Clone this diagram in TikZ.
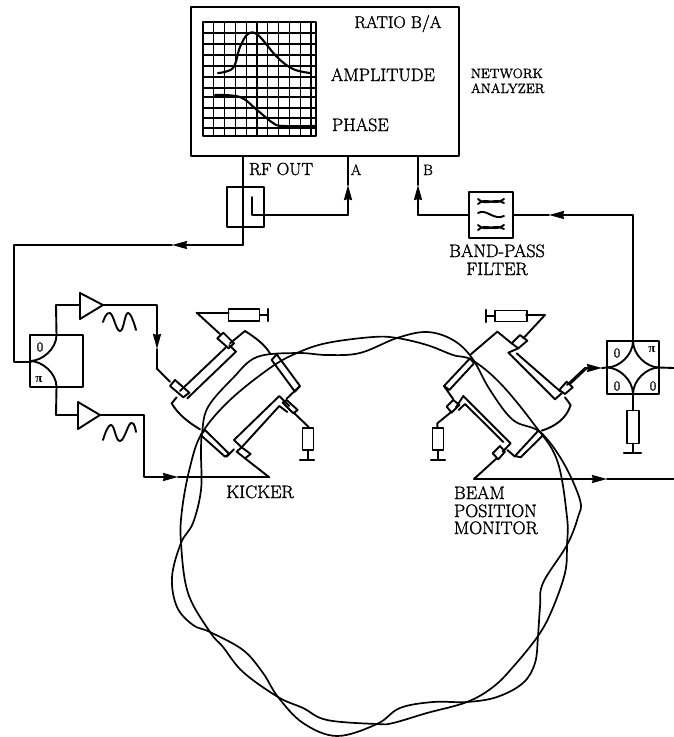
\documentclass[tikz,border=0pt]{standalone}
\usepackage{fontspec}
\usetikzlibrary{arrows.meta,calc}
\newfontfamily\lab{Latin Modern Roman}[FakeBold=1.5]
\newfontfamily\pifont{Liberation Serif}
\tikzset{
  wire/.style={line width=1.9pt,line cap=round,line join=round},
  box/.style={draw,line width=1.9pt,inner sep=0pt,outer sep=0pt},
  arr/.style={wire,-{Stealth[length=15pt,width=8pt,inset=1pt]}},
  resh/.style={box,minimum width=31pt,minimum height=12pt},
  resv/.style={box,minimum width=11pt,minimum height=22pt},
  txt/.style={inner sep=0pt,anchor=base west,font=\lab\fontsize{18}{20}\selectfont},
  txtc/.style={txt,anchor=base},
  small/.style={inner sep=0pt,font=\lab\fontsize{13.5}{15}\selectfont},
  portl/.style={inner sep=0pt,anchor=base,font=\lab\fontsize{15}{17}\selectfont},
  pil/.style={inner sep=0pt,font=\pifont\bfseries\fontsize{13}{15}\selectfont},
  beam/.style={line width=1.7pt},
  grid line/.style={line width=1.3pt},
}
\begin{document}
\begin{tikzpicture}[x=1pt,y=-1pt,every path/.append style={wire}]
\useasboundingbox (0,0) rectangle (674,737);

% network analyzer
\node[box,minimum width=268pt,minimum height=149pt] (NA) at (325,81.5) {};
\draw[grid line] (203,22) rectangle (316,136);
\foreach \x in {213.8,224.6,235.4,246.2,257,267.8,278.6,289.4,300.2,311} \draw[grid line] (\x,22) -- (\x,136);
\foreach \y in {33,44,55,66,77,88,97,108,118,128} \draw[grid line] (203,\y) -- (316,\y);
\draw[line width=2.1pt] plot[smooth,tension=0.6] coordinates {(218,73) (233,68) (240,47) (248,34) (258,35) (277,57) (293,69) (310,73)};
\draw[line width=2.1pt] plot[smooth,tension=0.6] coordinates {(215,95) (240,97) (257,110) (273,123) (283,126) (315,126)};
\node[txtc,font=\lab\fontsize{17}{19}\selectfont] (ratio) at (398,28) {RATIO B/A};
\node[txt] (ampl) at (330,81) {AMPLITUDE};
\node[txt] (phase) at (331,131) {PHASE};
\node[small,anchor=base west] (net1) at (470,78) {NETWORK};
\node[small,anchor=base west] (net2) at (470,93) {ANALYZER};
\node[txt,font=\lab\fontsize{17.5}{19}\selectfont] (rfout) at (248,175) {RF OUT};
\node[portl] (portA) at (356,175) {A};
\node[portl] (portB) at (428,175) {B};

% coupler
\node[box,minimum width=37pt,minimum height=40pt] (coup) at (245.5,207) {};
\coordinate (NArf) at (243,156);
\coordinate (bend1) at (243,245);
\coordinate (bend2) at (14,245);
\coordinate (arrL) at (172,245);
\coordinate (couI) at (252,197);
\coordinate (couC) at (252,215);
\coordinate (aB) at (348,215);
\coordinate (aT) at (348,185);
\coordinate (NAa) at (348,156);
\draw (NArf) -- (bend1);
\draw[arr] (bend1) -- (arrL);
\draw (arrL) -- (bend2) -- (14,362) -- (31,362);
\draw (couI) -- (couC) -- (aB);
\draw[arr] (aB) -- (aT);
\draw (aT) -- (NAa);

% band-pass filter
\node[box,minimum width=44pt,minimum height=46pt] (filt) at (491,215) {};
\coordinate (bB) at (418,215);
\coordinate (bT) at (418,185);
\coordinate (NAb) at (418,156);
\draw (filt.west) -- (bB);
\draw[arr] (bB) -- (bT);
\draw (bT) -- (NAb);
\draw (478,204) .. controls (486,196) and (494,207) .. (504,199);
\draw (478,199) .. controls (486,207) and (494,197) .. (504,203);
\draw (478,213) .. controls (486,208) and (494,221) .. (504,216);
\draw (478,230) .. controls (486,222) and (494,233) .. (504,225);
\draw (478,225) .. controls (486,233) and (494,223) .. (504,229);
\node[txtc] (bp1) at (497,257) {BAND-PASS};
\node[txtc] (bp2) at (497,275) {FILTER};

% right hybrid
\node[box,minimum width=52pt,minimum height=53pt] (HR) at (633,367.5) {};
\draw (HR.north) .. controls +(0,14) and +(-12,0) .. (HR.east);
\draw (HR.north) .. controls +(0,14) and +(12,0) .. (HR.west);
\draw (HR.south) .. controls +(0,-14) and +(-12,0) .. (HR.east);
\draw (HR.south) .. controls +(0,-14) and +(12,0) .. (HR.west);
\node[small] (h1) at (617,353) {0};
\node[pil] (h2) at (652,350) {π};
\node[small] (h3) at (617,386) {0};
\node[small] (h4) at (653,386) {0};
\coordinate (fltA) at (549,215);
\coordinate (hrt) at (633,215);
\draw[arr] (HR.north) -- (hrt) -- (fltA);
\draw (fltA) -- (filt.east);
\coordinate (rout) at (674,368);
\draw (HR.east) -- (rout);
\node[box,minimum width=12pt,minimum height=33pt] (RH) at (633,427) {};
\coordinate (gRH) at (633,453);
\draw (HR.south) -- (RH.north);
\draw (RH.south) -- (gRH);
\draw[line width=2.2pt] (624,453) -- (641,453);

% left hybrid
\node[box,minimum width=53pt,minimum height=52pt] (HL) at (56.5,361) {};
\draw (HL.north) .. controls +(0,14) and +(12,0) .. (HL.west);
\draw (HL.south) .. controls +(0,-14) and +(12,0) .. (HL.west);
\node[small] (l1) at (40,347) {0};
\node[pil] (l2) at (39,380) {π};

% amplifiers
\draw (80,293) -- (80,319) -- (103,305) -- cycle;
\draw (78,402) -- (78,429) -- (100,415) -- cycle;
\coordinate (a1in) at (80,305);
\coordinate (a1out) at (103,305);
\coordinate (a2in) at (78,415);
\coordinate (a2out) at (100,415);
\draw (a1in) -- (56,305) -- (HL.north);
\draw (a2in) -- (56,415) -- (HL.south);
\coordinate (w1) at (157,305);
\coordinate (w1a) at (157,349);
\coordinate (w1b) at (157,368);
\draw[arr] (a1out) -- (w1) -- (w1a);
\draw (w1a) -- (w1b);
\coordinate (w2) at (144,415);
\coordinate (w2b) at (144,477);
\coordinate (w2a) at (178,477);
\coordinate (w2c) at (269,477);
\draw[arr] (a2out) -- (w2) -- (w2b) -- (w2a);
\draw (w2a) -- (w2c);
\draw plot[smooth,tension=0.8] coordinates {(103,322) (110,313) (120,331) (128,313) (136,330)};
\draw plot[smooth,tension=0.8] coordinates {(103,440) (111,425) (120,441) (131,423) (136,432)};

% kicker
\begin{scope}[shift={(130,310)},x=0.3333pt,y=-0.3333pt]
  \draw (80,175) -- (120,215);
  \draw (120,228) -- (135,210) -- (178,248) -- (160,262) -- cycle;
  \draw (262,85) -- (280,68) -- (312,100) -- (296,115) -- cycle;
  \draw (150,243) -- (288,112);
  \draw (172,265) -- (318,125) -- (298,105);
  \draw (270,72) -- (200,8);
  \draw (200,8) -- (296,8);
  \draw (300,100) -- (345,63) .. controls (380,85) and (405,105) .. (420,130);
  \draw (425,150) -- (440,133) -- (510,228) -- (495,245) -- cycle;
  \draw (510,228) -- (470,266);
  \draw (125,280) -- (140,262);
  \draw (125,280) .. controls (145,315) and (180,340) .. (210,358);
  \draw (212,375) -- (225,360) -- (298,432) -- (285,440) -- cycle;
  \draw (290,440) -- (312,418);
  \draw (335,412) -- (312,390) -- (448,258) -- (478,288);
  \draw (335,412) -- (448,288) -- (472,306);
  \draw (470,270) -- (503,300) -- (490,310) -- (458,278) -- cycle;
  \draw (320,425) -- (335,412) -- (362,432) -- (345,445) -- cycle;
  \draw (345,445) -- (418,502);
  \draw (490,307) -- (535,350) -- (535,355);
\end{scope}
\node[resh] (RK1) at (244,315) {};
\node[resv] (RK2) at (308,439) {};
\coordinate (gK1) at (268,315);
\coordinate (gK2) at (308,460);
\draw (RK1.east) -- (gK1);
\draw[line width=2.2pt] (268,309) -- (268,321);
\draw (RK2.south) -- (gK2);
\draw[line width=2.2pt] (300,460) -- (314,460);
\node[txtc] (kick) at (260,498) {KICKER};

% beam position monitor
\begin{scope}[shift={(420,310)},x=0.3333pt,y=-0.3333pt]
  \draw (275,100) -- (300,75) -- (322,92) -- (295,115) -- cycle;
  \draw (310,85) -- (375,15) -- (318,15);
  \draw (295,115) -- (265,128) -- (405,268) -- (425,250);
  \draw (290,130) -- (422,245);
  \draw (418,240) -- (440,215) -- (458,232) -- (435,252) -- cycle;
  \draw (450,222) -- (500,175);
  \draw (150,135) -- (232,65) -- (275,100);
  \draw (72,228) -- (150,145) -- (162,160) -- (88,240) -- cycle;
  \draw (72,228) -- (100,268);
  \draw (435,262) -- (452,285) .. controls (440,325) and (405,350) .. (365,362);
  \draw (285,438) -- (355,362) -- (370,375) -- (302,442) -- cycle;
  \draw (285,440) -- (262,420);
  \draw (80,290) -- (100,270) -- (118,285) -- (95,308) -- cycle;
  \draw (108,292) -- (130,258) -- (272,400) -- (248,425);
  \draw (116,300) -- (135,282) -- (250,396);
  \draw (218,430) -- (240,408) -- (255,425) -- (235,448) -- cycle;
  \draw (95,305) -- (52,340) -- (52,355);
  \draw (230,445) -- (162,507);
  \coordinate (bpmL) at (162,507);
\end{scope}
\node[resh,minimum width=32pt,minimum height=11pt] (RB1) at (511,316) {};
\node[resv] (RB2) at (438,439) {};
\coordinate (gB1) at (486,316);
\coordinate (gB2) at (438,460);
\draw (RB1.west) -- (gB1);
\draw[line width=2.2pt] (486,310) -- (486,322);
\draw (RB2.south) -- (gB2);
\draw[line width=2.2pt] (431,460) -- (445,460);
\coordinate (bpmA) at (607,479);
\coordinate (bpmE) at (674,479);
\draw[arr] (bpmL) -- (bpmA);
\draw (bpmA) -- (bpmE);
\coordinate (hiA) at (602,368);
\draw[arr] (567,385) -- (585,368) -- (hiA);
\draw (hiA) -- (HR.west);
\node[txt] (m1) at (453,499) {BEAM};
\node[txt] (m2) at (453,517) {POSITION};
\node[txt] (m3) at (453,534) {MONITOR};

% beam orbits
\draw[beam] plot[smooth cycle,tension=0.6] coordinates {(397,338) (427,332) (453,340) (472,358) (490,390) (513,420) (540,432) (563,462) (580,500) (578,517) (567,545) (543,583) (540,607) (538,636) (535,663) (523,683) (497,697) (467,702) (433,702) (400,708) (377,724) (337,736) (303,723) (278,697) (263,673) (243,650) (210,632) (193,625) (177,607) (172,577) (181,543) (193,523) (201,490) (201,453) (202,433) (208,407) (233,378) (257,357) (297,353) (327,355) (360,353)};
\draw[beam] plot[smooth cycle,tension=0.6] coordinates {(397,338) (427,345) (453,355) (472,360) (500,383) (533,423) (557,460) (567,517) (567,545) (565,573) (552,610) (538,636) (513,667) (493,687) (467,702) (427,713) (393,723) (377,724) (327,720) (303,708) (278,697) (243,672) (223,647) (210,632) (188,593) (181,543) (182,510) (190,467) (202,433) (230,400) (270,368) (297,353) (327,343) (373,337)};
\end{tikzpicture}
\end{document}
